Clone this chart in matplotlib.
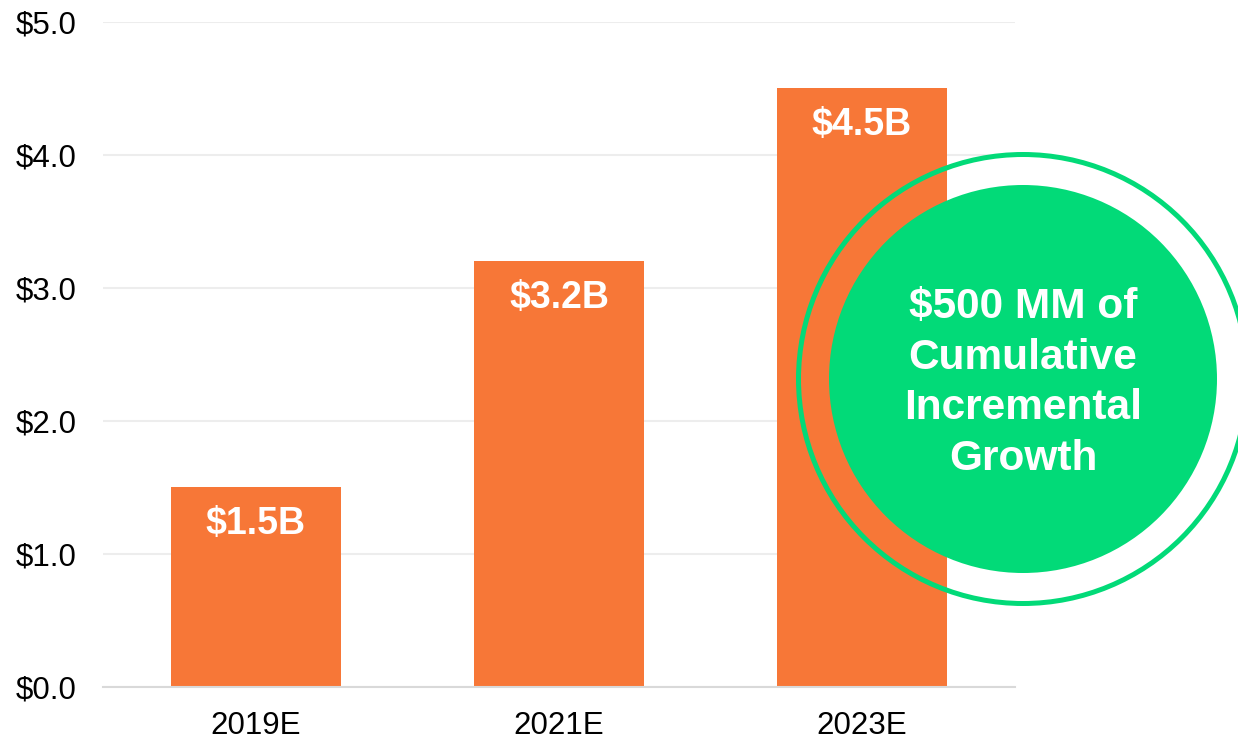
import matplotlib.pyplot as plt
from matplotlib.patches import Circle

plt.rcParams['font.family'] = ['Liberation Sans', 'DejaVu Sans']

years = ['2019E', '2021E', '2023E']
revenue = [1.5, 3.2, 4.5]
bar_labels = ['$1.5B', '$3.2B', '$4.5B']
yticks = [0, 1, 2, 3, 4, 5]
ytick_labels = ['$0.0', '$1.0', '$2.0', '$3.0', '$4.0', '$5.0']
callout = '$500 MM of\nCumulative\nIncremental\nGrowth'

orange = '#F77737'
green = '#02DA78'

fig = plt.figure(figsize=(12.38, 7.40), dpi=100)
ax = fig.add_axes([103 / 1238, 1 - 687 / 740, 912 / 1238, 665 / 740])

x = range(len(years))
bars = ax.bar(x, revenue, width=0.558, color=orange, zorder=2)

for rect, lab in zip(bars, bar_labels):
    ax.annotate(lab, (rect.get_x() + rect.get_width() / 2, rect.get_height()),
                xytext=(0, -26.5), textcoords='offset points',
                ha='center', va='center', color='white',
                fontsize=27, fontweight='bold')

ax.set_xlim(-0.505, 2.505)
ax.set_ylim(0, 5)
ax.set_yticks(yticks)
ax.set_yticklabels(ytick_labels)
ax.set_xticks(list(x))
ax.set_xticklabels(years)
ax.tick_params(axis='both', length=0, labelsize=22.5, colors='black')
ax.tick_params(axis='y', pad=19)
ax.tick_params(axis='x', pad=17.5)

ax.grid(axis='y', color='#EDEDED', linewidth=1.5, zorder=0)
ax.set_axisbelow(True)
for side in ['top', 'right', 'left']:
    ax.spines[side].set_visible(False)
ax.spines['bottom'].set_color('#D9D9D9')
ax.spines['bottom'].set_linewidth(1.5)

# callout bubble with a ring around it
cx, cy = 10.23, 3.61
fig.add_artist(Circle((cx, cy), 1.94, transform=fig.dpi_scale_trans,
                      facecolor=green, edgecolor='none', zorder=5))
fig.add_artist(Circle((cx, cy), 2.245, transform=fig.dpi_scale_trans,
                      facecolor='none', edgecolor=green, linewidth=3.6, zorder=5))
fig.text(cx, cy - 0.04, callout, transform=fig.dpi_scale_trans,
         ha='center', va='center', color='white', fontsize=30.5,
         fontweight='bold', linespacing=1.34, zorder=6)

fig.savefig('out.png', dpi=100)
